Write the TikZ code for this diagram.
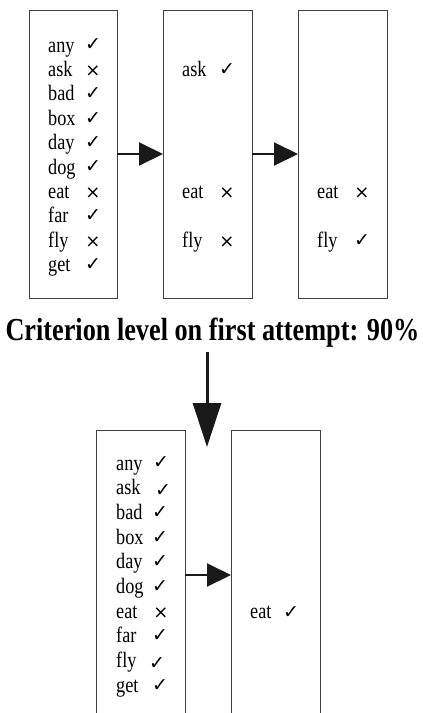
\documentclass[tikz,border=0pt]{standalone}
\usepackage{fontspec}
\setmainfont{Liberation Serif}
\newfontfamily\symfont{DejaVu Sans}
\usetikzlibrary{arrows.meta}
% horizontally condensed text
\newcommand{\narrow}[2][0.83]{\scalebox{#1}[1]{#2}}
\begin{document}
\begin{tikzpicture}[x=1pt,y=-1pt,
  listbox/.style={draw=black!75, line width=1pt, inner sep=0pt, outer sep=0pt},
  word/.style={anchor=base west, inner sep=0pt, font=\fontsize{22}{22}\selectfont},
  okmark/.style={inner sep=0pt, yshift=7pt, font=\symfont\fontsize{19}{19}\selectfont},
  nomark/.style={inner sep=0pt, yshift=5pt, font=\symfont\fontsize{18}{18}\selectfont},
  flow/.style={-{Triangle[length=24pt,width=23pt]}, line width=2pt, black!90},
  flowdown/.style={-{Triangle[length=44pt,width=28pt]}, line width=3pt, black!90},
]
\useasboundingbox (0,0) rectangle (423,713);

% upper row of lists
\node[listbox, minimum width=88pt, minimum height=288pt] (b1) at (73,154) {};
\node[listbox, minimum width=89pt, minimum height=288pt] (b2) at (207.5,154) {};
\node[listbox, minimum width=89pt, minimum height=288pt] (b3) at (342.5,154) {};

\foreach \w/\m/\g [count=\i] in {any/okmark/✓, ask/nomark/×, bad/okmark/✓,
    box/okmark/✓, day/okmark/✓, dog/okmark/✓, eat/nomark/×, far/okmark/✓,
    fly/nomark/×, get/okmark/✓} {
  \node[word] (a\i) at (48,{52+24.4*(\i-1)}) {\narrow{\w}};
  \node[\m] (am\i) at (93,{52+24.4*(\i-1)}) {\g};
}

\node[word] (b2w1) at (182,76.4) {\narrow{ask}};
\node[okmark] (b2m1) at (227,76.4) {✓};
\node[word] (b2w2) at (182,198.4) {\narrow{eat}};
\node[nomark] (b2m2) at (227,198.4) {×};
\node[word] (b2w3) at (182,247.2) {\narrow{fly}};
\node[nomark] (b2m3) at (227,247.2) {×};

\node[word] (b3w1) at (317,198.4) {\narrow{eat}};
\node[nomark] (b3m1) at (362,198.4) {×};
\node[word] (b3w2) at (317,247.2) {\narrow{fly}};
\node[okmark] (b3m2) at (362,247.2) {✓};

\draw[flow] (b1.east) -- (b2.west);
\draw[flow] (b2.east) -- (b3.west);

% caption
\node[anchor=base, inner sep=0pt, font=\bfseries\fontsize{32}{32}\selectfont]
  (title) at (212.5,340) {\narrow[0.82]{Criterion level on first attempt: 90\%}};

\coordinate (drop) at (207,352);
\coordinate (tip) at (207,447);
\draw[flowdown] (drop) -- (tip);

% lower row of lists (running off the bottom edge)
\node[listbox, minimum width=89pt, minimum height=290pt] (b4) at (140.5,575) {};
\node[listbox, minimum width=89pt, minimum height=290pt] (b5) at (275.5,575) {};

\foreach \w/\m/\g/\x/\d [count=\i] in {any/okmark/✓/161/0, ask/okmark/✓/163/-3,
    bad/okmark/✓/160/0, box/okmark/✓/160/0, day/okmark/✓/160/0,
    dog/okmark/✓/160/0, eat/nomark/×/161/0, far/okmark/✓/160/0,
    fly/okmark/✓/157/-3, get/okmark/✓/160/0} {
  \node[word] (c\i) at (116,{470+24.67*(\i-1)}) {\narrow{\w}};
  \node[\m, yshift=\d pt] (cm\i) at (\x,{470+24.67*(\i-1)}) {\g};
}

\node[word] (b5w1) at (250,618) {\narrow{eat}};
\node[okmark, yshift=-2pt] (b5m1) at (291,618) {✓};

\draw[flow] (b4.east) -- (b5.west);
\end{tikzpicture}
\end{document}
